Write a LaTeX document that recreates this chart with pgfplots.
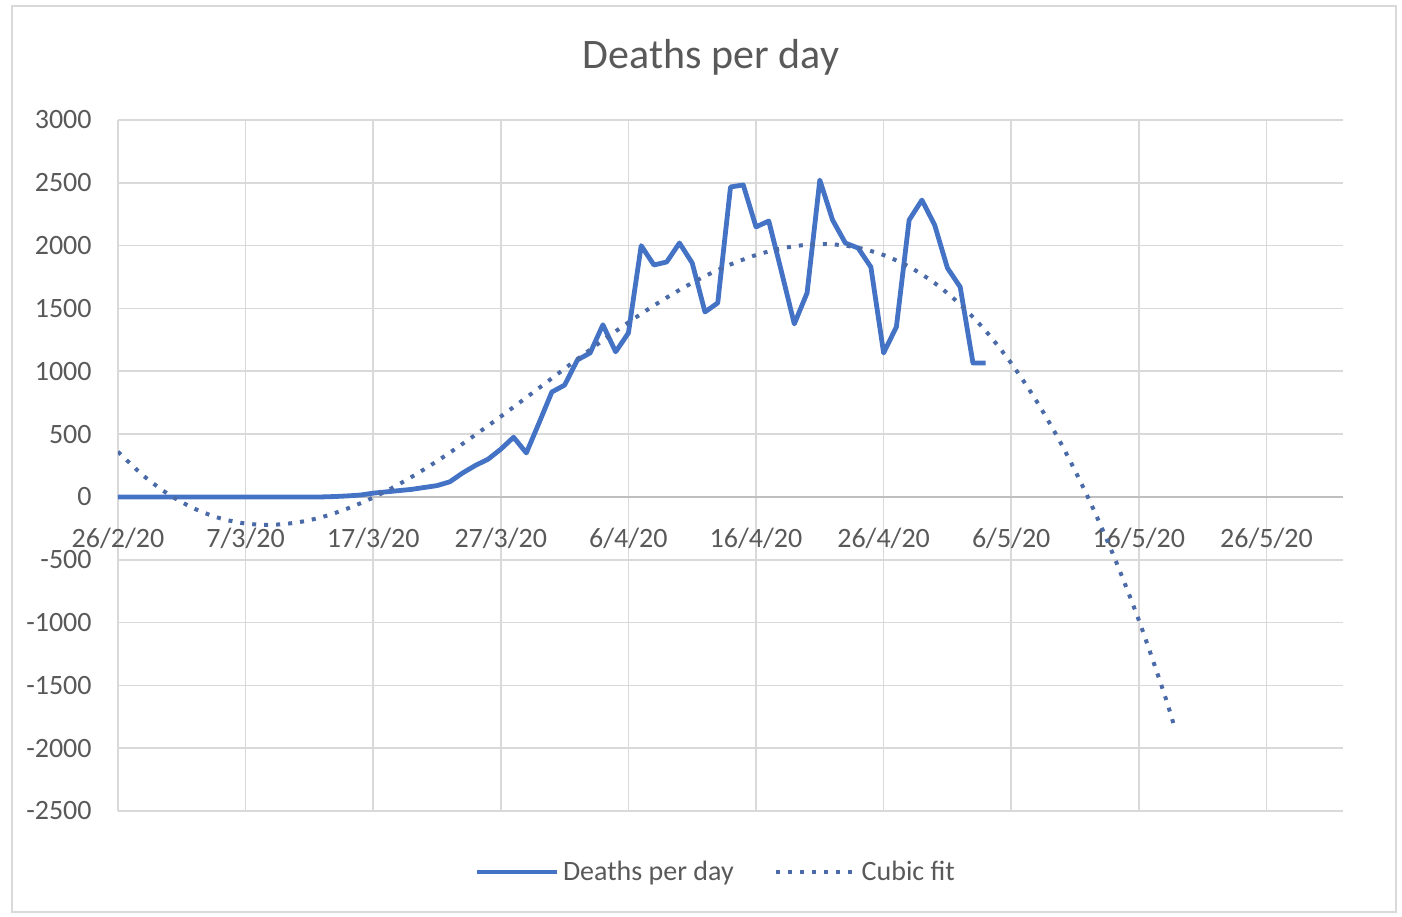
\documentclass[border=0pt]{standalone}
\usepackage{pgfplots}
\pgfplotsset{compat=1.18}
\usepackage{fontspec}
\setmainfont{Carlito}
\definecolor{xlblue}{HTML}{4472C4}
\definecolor{xldot}{HTML}{4A6AA8}
\definecolor{xltext}{HTML}{595959}
\definecolor{xlgrid}{HTML}{D9D9D9}
\definecolor{xlaxis}{HTML}{BFBFBF}
\begin{document}
\begin{tikzpicture}
\useasboundingbox (-59pt,-52.5pt) rectangle (642pt,405.5pt);
\draw[color=xlgrid, line width=0.8pt] (-53pt,-50.5pt) rectangle (639pt,402.5pt);
\begin{axis}[
  at={(0pt,0pt)}, anchor=south west,
  scale only axis, width=612.5pt, height=345.5pt,
  xmin=0, xmax=96, ymin=-2500, ymax=3000,
  axis line style={draw=none},
  major tick length=0pt,
  xtick={0,10,...,90},
  xticklabels={26/2/20,7/3/20,17/3/20,27/3/20,6/4/20,16/4/20,26/4/20,6/5/20,16/5/20,26/5/20},
  ytick={-2500,-2000,...,3000},
  extra y ticks={0}, extra y tick labels={},
  extra y tick style={grid style={color=xlaxis, line width=0.8pt}},
  grid=major,
  grid style={color=xlgrid, line width=0.8pt},
  /pgf/number format/assume math mode=true,
  /pgf/number format/1000 sep={},
  tick label style={font=\fontsize{14}{16}\selectfont, text=xltext},
  xticklabel style={anchor=center, inner sep=0pt, yshift=136.5pt},
  yticklabel style={anchor=east, inner sep=0pt, xshift=-13pt},
  legend columns=2,
  legend style={at={(0.4886,-0.0883)}, anchor=center, draw=none, fill=none,
    font=\fontsize{14}{16}\selectfont, text=xltext,
    /tikz/every even column/.append style={column sep=18pt}},
  legend image code/.code={\draw[#1] (0pt,0pt) -- (40pt,0pt);},
]
\addplot[color=xlblue, line width=2.4pt, line join=round] coordinates {
(0,0)(1,0)(2,0)(3,0)(4,0)(5,0)(6,0)(7,0)(8,0)(9,0)(10,0)(11,0)(12,0)(13,0)(14,0)(15,0)(16,0)
(17,3)(18,8)(19,15)(20,30)(21,40)(22,50)(23,60)(24,75)(25,90)(26,120)(27,190)(28,250)(29,300)
(30,380)(31,475)(32,350)(33,590)(34,835)(35,890)(36,1090)(37,1146)(38,1370)(39,1155)(40,1305)
(41,2000)(42,1846)(43,1870)(44,2021)(45,1862)(46,1472)(47,1544)(48,2467)(49,2483)(50,2149)
(51,2196)(52,1790)(53,1377)(54,1623)(55,2522)(56,2204)(57,2021)(58,1981)(59,1830)(60,1146)
(61,1353)(62,2204)(63,2363)(64,2164)(65,1822)(66,1671)(67,1066)(68,1066)
};
\addlegendentry{Deaths per day}
\addplot[color=xldot, line width=2pt, line cap=butt, dash pattern=on 2pt off 4pt, smooth] coordinates {
(0,360)(2,168)(4,18)(6,-94)(8,-170)(10,-212)(12,-222)(14,-204)(16,-160)(18,-92)(20,-5)
(22,100)(24,220)(26,352)(28,494)(30,640)(32,791)(34,944)(36,1097)(38,1246)(40,1389)
(42,1523)(44,1647)(46,1757)(48,1850)(50,1925)(52,1978)(54,2007)(56,2010)(58,1983)(60,1925)
(62,1832)(64,1702)(66,1532)(68,1321)(70,1064)(72,760)(74,407)(76,0)(78,-462)(80,-981)
(82,-1570)(82.7,-1800)
};
\addlegendentry{Cubic fit}
\end{axis}
\node[font=\fontsize{21}{24}\selectfont, text=xltext] at (296.5pt,377pt) {Deaths per day};
\end{tikzpicture}
\end{document}
